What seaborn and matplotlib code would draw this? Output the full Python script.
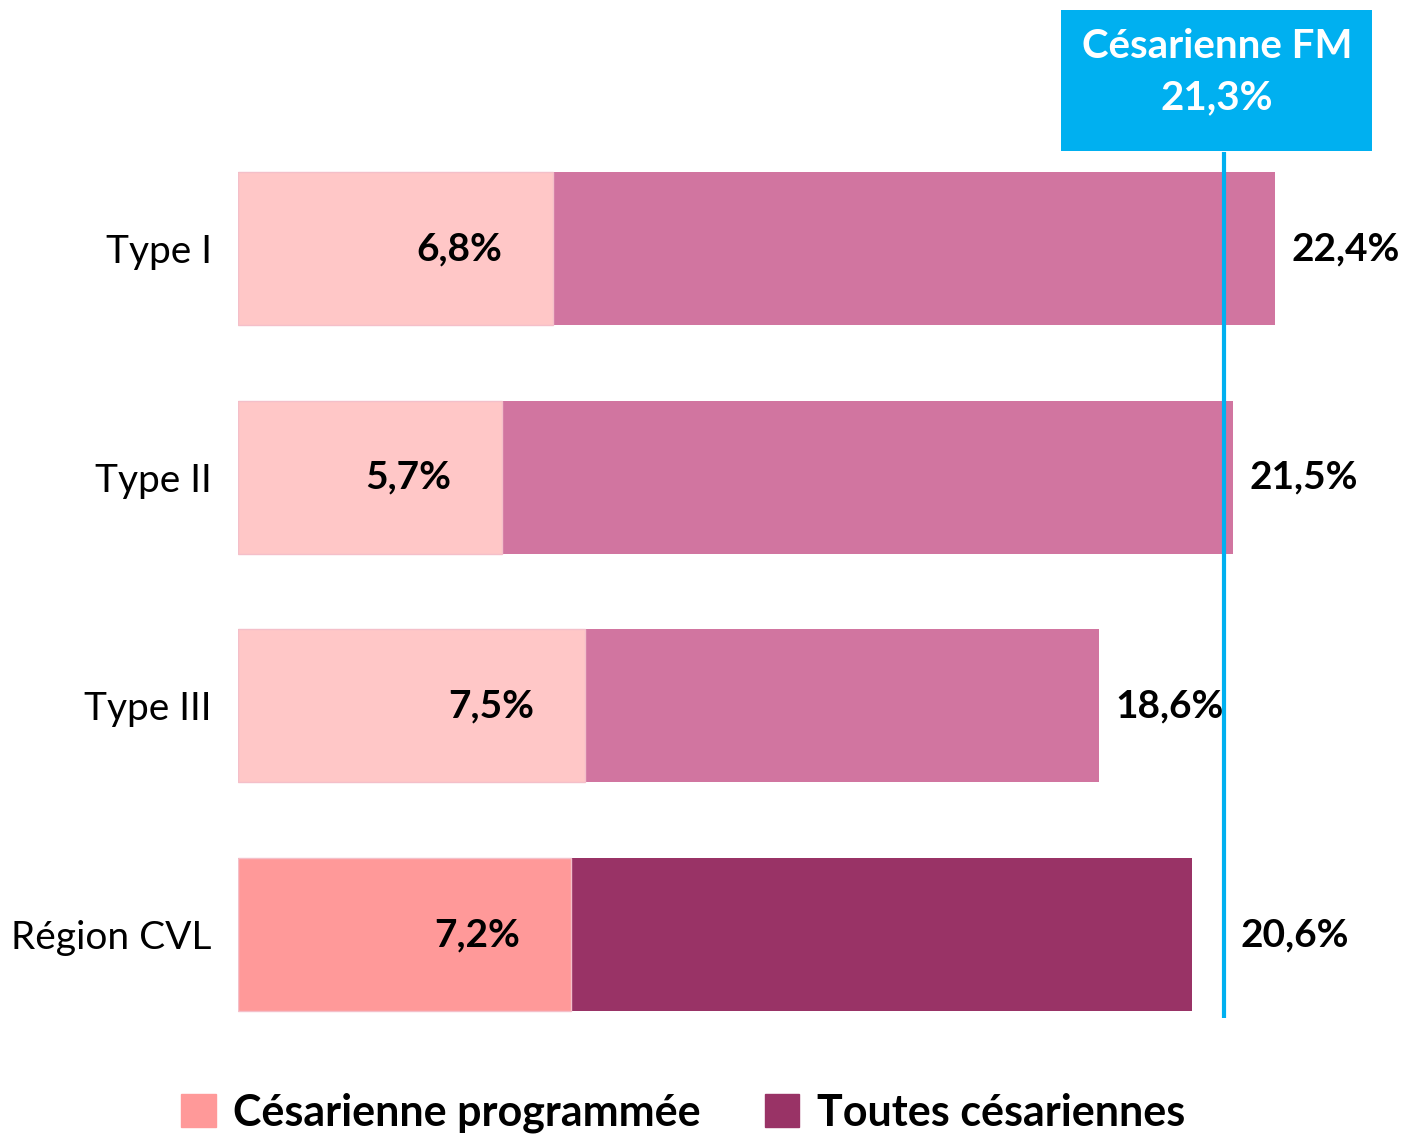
import matplotlib
matplotlib.use("Agg")
import matplotlib.pyplot as plt
import matplotlib.patches as mpatches
import seaborn as sns
import pandas as pd

# data
categories = ["Type I", "Type II", "Type III", "Région CVL"]
toutes = [22.4, 21.5, 18.6, 20.6]
programmee = [6.8, 5.7, 7.5, 7.2]
fm_value = 21.3

col_total = ["#D175A0", "#D175A0", "#D175A0", "#993366"]
col_prog = ["#FFC7C7", "#FFC7C7", "#FFC7C7", "#FF9999"]
col_fm = "#00B0F0"

sns.set_style("white")
plt.rcParams["font.family"] = ["Lato", "DejaVu Sans"]
plt.rcParams["text.color"] = "black"
plt.rcParams["ytick.labelcolor"] = "black"


def fmt(v):
    return f"{v:.1f}%".replace(".", ",")


df = pd.DataFrame({"cat": categories, "toutes": toutes, "prog": programmee})

fig = plt.figure(figsize=(14.03, 11.37), dpi=100)
ax = fig.add_axes([238 / 1403, 1 - 1018 / 1137, 1052 / 1403, 866 / 1137])

sns.barplot(data=df, x="toutes", y="cat", hue="cat", palette=col_total,
            legend=False, orient="h", width=0.67, saturation=1,
            ax=ax, edgecolor="none")
sns.barplot(data=df, x="prog", y="cat", hue="cat", palette=col_prog,
            legend=False, orient="h", width=0.67, saturation=1,
            ax=ax, edgecolor="none")

# faint border around the light bars, like in the original
for p in ax.patches[4:]:
    p.set_edgecolor("#F4BFC9")
    p.set_linewidth(1)

ax.set_xlim(0, 1052 / 46.3)
ax.set_ylim(3.365, -0.422)

for i, (t, pr) in enumerate(zip(toutes, programmee)):
    # bars ending just short of the reference line get their label past it
    x_lab = fm_value if 0 < fm_value - t < 1 else t
    ax.text(x_lab + 0.35, i, fmt(t), ha="left", va="center",
            fontsize=28, fontweight="bold", color="black")
    ax.text(pr - 1.1, i, fmt(pr), ha="right", va="center",
            fontsize=28, fontweight="bold", color="black")

ax.axvline(fm_value, color=col_fm, lw=3, zorder=5)

ax.set_xlabel("")
ax.set_ylabel("")
ax.set_xticks([])
ax.tick_params(axis="y", length=0, pad=19, labelsize=28, labelcolor="black")
sns.despine(ax=ax, left=True, bottom=True)

# label box for the reference value
box = mpatches.Rectangle((1061 / 1403, 1 - 151 / 1137), 311 / 1403, 141 / 1137,
                         transform=fig.transFigure, facecolor=col_fm,
                         edgecolor="none", zorder=6)
fig.patches.append(box)
fig.text(1217 / 1403, 1 - 72 / 1137,
         "Césarienne FM\n" + fmt(fm_value),
         ha="center", va="center", color="white", fontsize=29,
         fontweight="bold", linespacing=1.45, zorder=7)

handles = [mpatches.Patch(color=col_prog[3], label="Césarienne programmée"),
           mpatches.Patch(color=col_total[3], label="Toutes césariennes")]
leg = fig.legend(handles=handles, loc="center",
                 bbox_to_anchor=(683 / 1403, 1 - 1113 / 1137),
                 ncol=2, frameon=False, prop={"weight": "bold", "size": 31},
                 handlelength=0.8, handleheight=0.8, handletextpad=0.4,
                 columnspacing=1.5)
for t in leg.get_texts():
    t.set_color("black")

fig.savefig("out.png", dpi=100)
